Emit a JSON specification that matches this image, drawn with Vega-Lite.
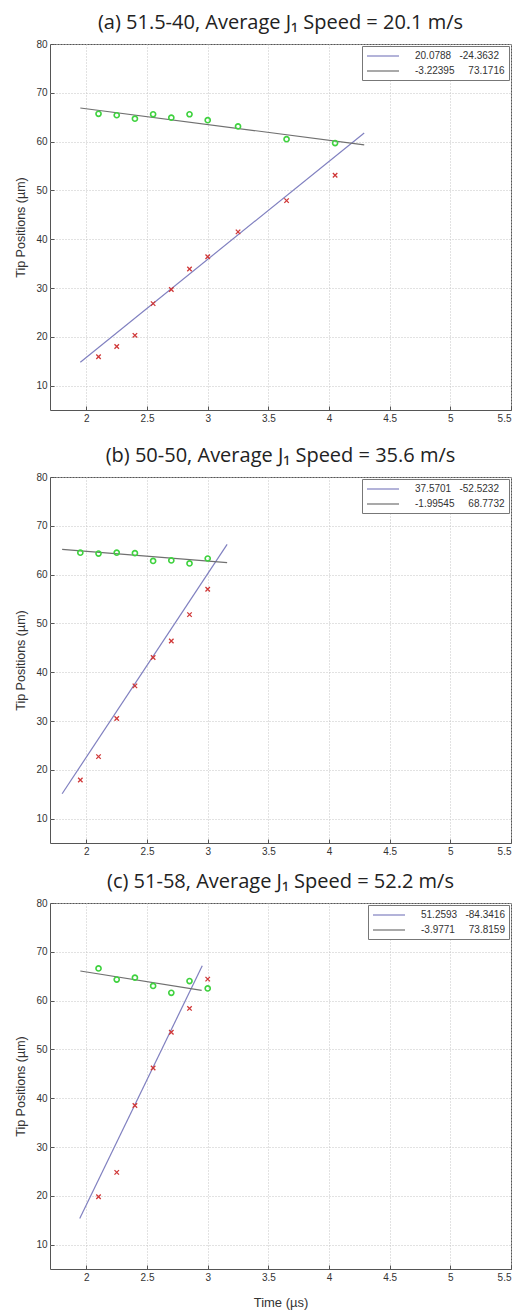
{
  "$schema": "https://vega.github.io/schema/vega-lite/v6.json",
  "background": "white",
  "padding": {"left": 14, "top": 12, "right": 6, "bottom": 4},
  "spacing": 21,
  "config": {
    "font": "Liberation Sans",
    "view": {"stroke": "#555555", "strokeWidth": 1},
    "axis": {
      "grid": true, "gridColor": "#c4c4c4", "gridDash": [1, 2], "gridWidth": 1,
      "domain": false, "ticks": true, "tickColor": "#555555", "tickSize": -4,
      "labelFontSize": 10, "labelColor": "#333333", "labelPadding": 7,
      "titleFontSize": 12.5, "titleFontWeight": "normal", "titleColor": "#333333"
    },
    "title": {"font": "Open Sans", "fontSize": 20, "fontWeight": "normal", "color": "#222222", "offset": 6, "anchor": "middle"},
    "legend": {
      "orient": "top-right", "offset": 2, "strokeColor": "#777777", "fillColor": "white",
      "padding": 4, "rowPadding": 4, "symbolType": "M-3.2,0L3.2,0", "symbolSize": 100, "symbolOffset": 11,
      "symbolStrokeWidth": 1.2, "labelOffset": 26, "labelFontSize": 10, "labelColor": "#333333", "labelLimit": 300, "cornerRadius": 0
    }
  },
  "datasets": {
    "ptsA": [
      {"t": 2.1, "pos": 65.7, "m": "o"}, {"t": 2.25, "pos": 65.4, "m": "o"}, {"t": 2.4, "pos": 64.7, "m": "o"},
      {"t": 2.55, "pos": 65.6, "m": "o"}, {"t": 2.7, "pos": 64.9, "m": "o"}, {"t": 2.85, "pos": 65.6, "m": "o"},
      {"t": 3.0, "pos": 64.4, "m": "o"}, {"t": 3.25, "pos": 63.1, "m": "o"}, {"t": 3.65, "pos": 60.5, "m": "o"},
      {"t": 4.05, "pos": 59.7, "m": "o"},
      {"t": 2.1, "pos": 15.9, "m": "x"}, {"t": 2.25, "pos": 18.0, "m": "x"}, {"t": 2.4, "pos": 20.3, "m": "x"},
      {"t": 2.55, "pos": 26.8, "m": "x"}, {"t": 2.7, "pos": 29.7, "m": "x"}, {"t": 2.85, "pos": 33.9, "m": "x"},
      {"t": 3.0, "pos": 36.4, "m": "x"}, {"t": 3.25, "pos": 41.5, "m": "x"}, {"t": 3.65, "pos": 47.9, "m": "x"},
      {"t": 4.05, "pos": 53.1, "m": "x"}
    ],
    "fitA": [
      {"t": 1.95, "pos": 14.79, "fit": "20.0788\u00a0\u00a0\u00a0-24.3632"},
      {"t": 4.29, "pos": 61.78, "fit": "20.0788\u00a0\u00a0\u00a0-24.3632"},
      {"t": 1.95, "pos": 66.89, "fit": "-3.22395\u00a0\u00a0\u00a0\u00a0\u00a073.1716"},
      {"t": 4.29, "pos": 59.34, "fit": "-3.22395\u00a0\u00a0\u00a0\u00a0\u00a073.1716"}
    ],
    "ptsB": [
      {"t": 1.95, "pos": 64.5, "m": "o"}, {"t": 2.1, "pos": 64.3, "m": "o"}, {"t": 2.25, "pos": 64.5, "m": "o"},
      {"t": 2.4, "pos": 64.4, "m": "o"}, {"t": 2.55, "pos": 62.8, "m": "o"}, {"t": 2.7, "pos": 62.9, "m": "o"},
      {"t": 2.85, "pos": 62.3, "m": "o"}, {"t": 3.0, "pos": 63.3, "m": "o"},
      {"t": 1.95, "pos": 17.9, "m": "x"}, {"t": 2.1, "pos": 22.7, "m": "x"}, {"t": 2.25, "pos": 30.5, "m": "x"},
      {"t": 2.4, "pos": 37.2, "m": "x"}, {"t": 2.55, "pos": 43.0, "m": "x"}, {"t": 2.7, "pos": 46.4, "m": "x"},
      {"t": 2.85, "pos": 51.8, "m": "x"}, {"t": 3.0, "pos": 57.0, "m": "x"}
    ],
    "fitB": [
      {"t": 1.8, "pos": 15.10, "fit": "37.5701\u00a0\u00a0\u00a0-52.5232"},
      {"t": 3.16, "pos": 66.20, "fit": "37.5701\u00a0\u00a0\u00a0-52.5232"},
      {"t": 1.8, "pos": 65.18, "fit": "-1.99545\u00a0\u00a0\u00a0\u00a0\u00a068.7732"},
      {"t": 3.16, "pos": 62.47, "fit": "-1.99545\u00a0\u00a0\u00a0\u00a0\u00a068.7732"}
    ],
    "ptsC": [
      {"t": 2.1, "pos": 66.6, "m": "o"}, {"t": 2.25, "pos": 64.3, "m": "o"}, {"t": 2.4, "pos": 64.7, "m": "o"},
      {"t": 2.55, "pos": 63.0, "m": "o"}, {"t": 2.7, "pos": 61.6, "m": "o"}, {"t": 2.85, "pos": 64.0, "m": "o"},
      {"t": 3.0, "pos": 62.5, "m": "o"},
      {"t": 2.1, "pos": 19.8, "m": "x"}, {"t": 2.25, "pos": 24.8, "m": "x"}, {"t": 2.4, "pos": 38.5, "m": "x"},
      {"t": 2.55, "pos": 46.2, "m": "x"}, {"t": 2.7, "pos": 53.5, "m": "x"}, {"t": 2.85, "pos": 58.4, "m": "x"},
      {"t": 3.0, "pos": 64.4, "m": "x"}
    ],
    "fitC": [
      {"t": 1.945, "pos": 15.36, "fit": "51.2593\u00a0\u00a0\u00a0-84.3416"},
      {"t": 2.955, "pos": 67.13, "fit": "51.2593\u00a0\u00a0\u00a0-84.3416"},
      {"t": 1.95, "pos": 66.06, "fit": "-3.9771\u00a0\u00a0\u00a0\u00a0\u00a073.8159"},
      {"t": 2.95, "pos": 62.08, "fit": "-3.9771\u00a0\u00a0\u00a0\u00a0\u00a073.8159"}
    ]
  },
  "resolve": {"scale": {"color": "independent"}},
  "vconcat": [
    {
      "title": "(a) 51.5-40, Average J₁ Speed = 20.1 m/s",
      "width": 461, "height": 366,
      "layer": [
        {
          "data": {"name": "fitA"},
          "mark": {"type": "line", "strokeWidth": 1.2},
          "encoding": {
            "x": {"field": "t", "type": "quantitative", "scale": {"domain": [1.7, 5.5], "nice": false, "zero": false},
                  "axis": {"title": null, "values": [2, 2.5, 3, 3.5, 4, 4.5, 5, 5.5], "format": "~g"}},
            "y": {"field": "pos", "type": "quantitative", "scale": {"domain": [5, 80], "nice": false, "zero": false},
                  "axis": {"title": "Tip Positions (µm)", "values": [10, 20, 30, 40, 50, 60, 70, 80], "titlePadding": 8}},
            "color": {"field": "fit", "type": "nominal",
                      "scale": {"domain": ["20.0788\u00a0\u00a0\u00a0-24.3632", "-3.22395\u00a0\u00a0\u00a0\u00a0\u00a073.1716"], "range": ["#8080c0", "#707070"]},
                      "legend": {"title": null}}
          }
        },
        {
          "data": {"name": "ptsA"},
          "transform": [{"filter": "datum.m == 'o'"}],
          "mark": {"type": "point", "shape": "circle", "filled": false, "color": "#3fd23f", "size": 26, "strokeWidth": 1.6, "opacity": 1},
          "encoding": {"x": {"field": "t", "type": "quantitative"}, "y": {"field": "pos", "type": "quantitative"}}
        },
        {
          "data": {"name": "ptsA"},
          "transform": [{"filter": "datum.m == 'x'"}],
          "mark": {"type": "point", "shape": "M-1,-1L1,1M1,-1L-1,1", "filled": false, "color": "#d03838", "size": 20, "strokeWidth": 1.3, "opacity": 1},
          "encoding": {"x": {"field": "t", "type": "quantitative"}, "y": {"field": "pos", "type": "quantitative"}}
        }
      ]
    },
    {
      "spacing": 14,
      "resolve": {"scale": {"color": "independent"}},
      "vconcat": [
        {
          "title": "(b) 50-50, Average J₁ Speed = 35.6 m/s",
          "width": 461, "height": 366,
          "layer": [
            {
              "data": {"name": "fitB"},
              "mark": {"type": "line", "strokeWidth": 1.2},
              "encoding": {
                "x": {"field": "t", "type": "quantitative", "scale": {"domain": [1.7, 5.5], "nice": false, "zero": false},
                      "axis": {"title": null, "values": [2, 2.5, 3, 3.5, 4, 4.5, 5, 5.5], "format": "~g"}},
                "y": {"field": "pos", "type": "quantitative", "scale": {"domain": [5, 80], "nice": false, "zero": false},
                      "axis": {"title": "Tip Positions (µm)", "values": [10, 20, 30, 40, 50, 60, 70, 80], "titlePadding": 8}},
                "color": {"field": "fit", "type": "nominal",
                          "scale": {"domain": ["37.5701\u00a0\u00a0\u00a0-52.5232", "-1.99545\u00a0\u00a0\u00a0\u00a0\u00a068.7732"], "range": ["#8080c0", "#707070"]},
                          "legend": {"title": null}}
              }
            },
            {
              "data": {"name": "ptsB"},
              "transform": [{"filter": "datum.m == 'o'"}],
              "mark": {"type": "point", "shape": "circle", "filled": false, "color": "#3fd23f", "size": 26, "strokeWidth": 1.6, "opacity": 1},
              "encoding": {"x": {"field": "t", "type": "quantitative"}, "y": {"field": "pos", "type": "quantitative"}}
            },
            {
              "data": {"name": "ptsB"},
              "transform": [{"filter": "datum.m == 'x'"}],
              "mark": {"type": "point", "shape": "M-1,-1L1,1M1,-1L-1,1", "filled": false, "color": "#d03838", "size": 20, "strokeWidth": 1.3, "opacity": 1},
              "encoding": {"x": {"field": "t", "type": "quantitative"}, "y": {"field": "pos", "type": "quantitative"}}
            }
          ]
        },
        {
          "title": "(c) 51-58, Average J₁ Speed = 52.2 m/s",
          "width": 461, "height": 366,
          "layer": [
            {
              "data": {"name": "fitC"},
              "mark": {"type": "line", "strokeWidth": 1.2},
              "encoding": {
                "x": {"field": "t", "type": "quantitative", "scale": {"domain": [1.7, 5.5], "nice": false, "zero": false},
                      "axis": {"title": "Time (µs)", "titlePadding": 14, "titleFontSize": 13, "values": [2, 2.5, 3, 3.5, 4, 4.5, 5, 5.5], "format": "~g"}},
                "y": {"field": "pos", "type": "quantitative", "scale": {"domain": [5, 80], "nice": false, "zero": false},
                      "axis": {"title": "Tip Positions (µm)", "values": [10, 20, 30, 40, 50, 60, 70, 80], "titlePadding": 8}},
                "color": {"field": "fit", "type": "nominal",
                          "scale": {"domain": ["51.2593\u00a0\u00a0\u00a0-84.3416", "-3.9771\u00a0\u00a0\u00a0\u00a0\u00a073.8159"], "range": ["#8080c0", "#707070"]},
                          "legend": {"title": null}}
              }
            },
            {
              "data": {"name": "ptsC"},
              "transform": [{"filter": "datum.m == 'o'"}],
              "mark": {"type": "point", "shape": "circle", "filled": false, "color": "#3fd23f", "size": 26, "strokeWidth": 1.6, "opacity": 1},
              "encoding": {"x": {"field": "t", "type": "quantitative"}, "y": {"field": "pos", "type": "quantitative"}}
            },
            {
              "data": {"name": "ptsC"},
              "transform": [{"filter": "datum.m == 'x'"}],
              "mark": {"type": "point", "shape": "M-1,-1L1,1M1,-1L-1,1", "filled": false, "color": "#d03838", "size": 20, "strokeWidth": 1.3, "opacity": 1},
              "encoding": {"x": {"field": "t", "type": "quantitative"}, "y": {"field": "pos", "type": "quantitative"}}
            }
          ]
        }
      ]
    }
  ]
}
